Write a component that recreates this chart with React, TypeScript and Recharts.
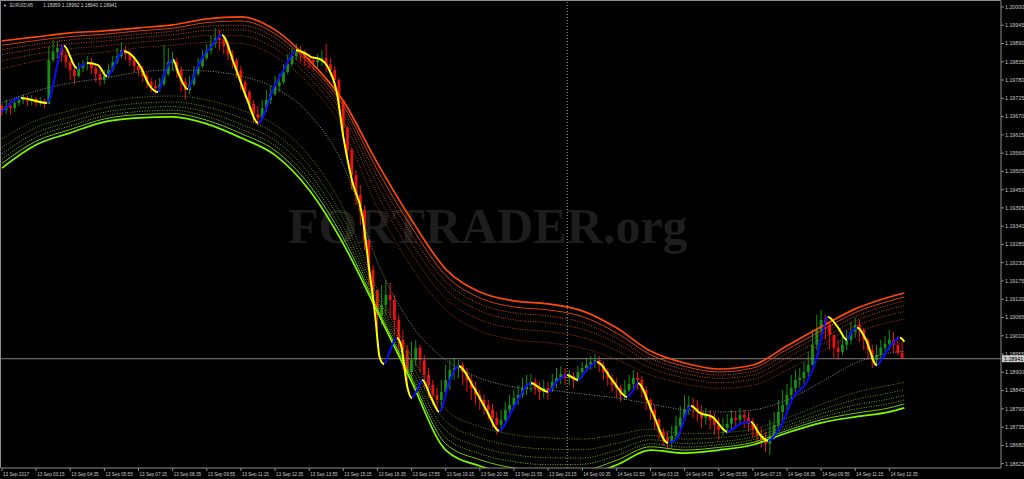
import React from 'react';
import { ComposedChart, Bar, Line, XAxis, YAxis, ReferenceLine } from 'recharts';

// ---------- data (prices stored as 1.18 + v/100000) ----------
const BASE = 1.18;
const toPrice = (v: number) => BASE + v / 100000;

const yTicks = [1.18625, 1.1868, 1.18735, 1.1879, 1.18845, 1.189, 1.18955, 1.1901, 1.19065, 1.1912, 1.19175, 1.1923, 1.19285, 1.1934, 1.19395, 1.1945, 1.19505, 1.1956, 1.19615, 1.1967, 1.19725, 1.1978, 1.19835, 1.1989, 1.19945, 1.2];
const yDomain = [1.18612, 1.20018];

const xTickIdx = [0, 16, 32, 48, 64, 80, 96, 112, 128, 144, 160, 176, 192, 208, 224, 240, 256, 272, 288, 304, 320, 336, 352, 368, 384, 400, 416];
const xTickLabels = ['13 Sep 2017', '13 Sep 03:15', '13 Sep 04:35', '13 Sep 05:55', '13 Sep 07:15', '13 Sep 08:35', '13 Sep 09:55', '13 Sep 11:15', '13 Sep 12:35', '13 Sep 13:55', '13 Sep 15:15', '13 Sep 16:35', '13 Sep 17:55', '13 Sep 19:15', '13 Sep 20:35', '13 Sep 21:55', '13 Sep 23:15', '14 Sep 00:35', '14 Sep 01:55', '14 Sep 03:15', '14 Sep 04:35', '14 Sep 05:55', '14 Sep 07:15', '14 Sep 08:35', '14 Sep 09:55', '14 Sep 11:15', '14 Sep 12:35'];
const xDomain = [-0.47, 468.3];

// candles: one every 2 slots (10 min)
const firstOpen = 1702;
const closes = [
  1690, 1702, 1696, 1711, 1720, 1726, 1717, 1723, 1711, 1717,
  1708, 1840, 1864, 1877, 1855, 1834, 1810, 1792, 1816, 1828,
  1834, 1816, 1798, 1780, 1792, 1810, 1834, 1852, 1870, 1858,
  1840, 1822, 1810, 1792, 1774, 1762, 1756, 1768, 1798, 1834,
  1834, 1810, 1774, 1750, 1768, 1798, 1822, 1846, 1870, 1889,
  1907, 1901, 1883, 1858, 1840, 1810, 1774, 1744, 1708, 1678,
  1666, 1696, 1720, 1738, 1762, 1774, 1804, 1828, 1852, 1864,
  1858, 1846, 1840, 1834, 1840, 1846, 1828, 1810, 1780, 1720,
  1636, 1569, 1494, 1434, 1389, 1299, 1208, 1148, 1073, 1103,
  1133, 1118, 1058, 998, 967, 901, 937, 974, 937, 892,
  862, 832, 817, 841, 877, 907, 913, 922, 901, 877,
  853, 832, 817, 802, 787, 763, 742, 757, 787, 802,
  823, 832, 853, 862, 871, 853, 841, 853, 847, 871,
  883, 895, 883, 889, 877, 901, 913, 922, 931, 937,
  922, 901, 883, 862, 853, 832, 847, 865, 883, 877,
  847, 817, 787, 757, 721, 703, 691, 709, 739, 763,
  787, 802, 793, 781, 763, 772, 757, 742, 727, 733,
  745, 763, 757, 772, 763, 745, 727, 709, 697, 685,
  709, 742, 781, 802, 832, 853, 877, 883, 901, 922,
  983, 1028, 1058, 1043, 1013, 974, 961, 983, 998, 1022,
  1043, 1028, 998, 967, 937, 952, 974, 986, 998, 983,
  959, 941,
];
const highs = [
  1708, 1720, 1717, 1726, 1732, 1738, 1732, 1735, 1729, 1729,
  1723, 1880, 1901, 1895, 1886, 1870, 1840, 1822, 1834, 1840,
  1852, 1846, 1828, 1810, 1810, 1828, 1852, 1877, 1895, 1883,
  1870, 1852, 1834, 1822, 1804, 1786, 1780, 1786, 1886, 1877,
  1864, 1846, 1822, 1786, 1792, 1822, 1846, 1870, 1889, 1913,
  1937, 1931, 1913, 1895, 1870, 1846, 1822, 1780, 1750, 1720,
  1702, 1720, 1750, 1762, 1792, 1798, 1828, 1858, 1877, 1889,
  1883, 1870, 1858, 1852, 1858, 1870, 1889, 1846, 1822, 1786,
  1720, 1642, 1576, 1509, 1464, 1404, 1299, 1223, 1148, 1163,
  1178, 1169, 1133, 1073, 1028, 983, 992, 998, 983, 952,
  913, 877, 853, 877, 922, 937, 943, 937, 931, 913,
  892, 871, 847, 832, 817, 805, 781, 787, 811, 832,
  847, 862, 883, 892, 895, 883, 871, 877, 871, 895,
  913, 919, 913, 907, 901, 919, 931, 943, 949, 955,
  949, 931, 913, 895, 883, 862, 877, 892, 907, 901,
  889, 859, 823, 802, 763, 733, 721, 739, 769, 799,
  832, 829, 823, 817, 802, 793, 787, 778, 763, 763,
  775, 787, 781, 793, 787, 781, 763, 745, 733, 721,
  757, 781, 817, 847, 865, 892, 907, 913, 931, 961,
  1028, 1073, 1088, 1073, 1052, 1013, 998, 1013, 1028, 1052,
  1064, 1058, 1034, 1004, 983, 983, 998, 1010, 1028, 1022,
  1010, 992,
];
const lows = [
  1672, 1678, 1675, 1684, 1702, 1708, 1702, 1705, 1699, 1702,
  1696, 1708, 1834, 1846, 1834, 1816, 1780, 1768, 1786, 1804,
  1810, 1798, 1774, 1762, 1768, 1786, 1804, 1828, 1846, 1840,
  1822, 1804, 1792, 1774, 1756, 1744, 1738, 1744, 1762, 1792,
  1810, 1786, 1744, 1720, 1738, 1762, 1792, 1816, 1840, 1858,
  1877, 1870, 1858, 1840, 1816, 1786, 1750, 1726, 1690, 1654,
  1642, 1660, 1684, 1708, 1732, 1744, 1768, 1798, 1822, 1840,
  1834, 1822, 1816, 1810, 1816, 1822, 1804, 1792, 1750, 1690,
  1600, 1539, 1449, 1404, 1344, 1268, 1163, 1103, 1028, 1043,
  1073, 1064, 1013, 952, 907, 853, 877, 919, 901, 853,
  823, 802, 781, 787, 823, 847, 877, 883, 862, 841,
  817, 802, 787, 772, 757, 733, 712, 721, 742, 772,
  787, 802, 823, 832, 841, 832, 817, 823, 817, 841,
  853, 865, 862, 862, 853, 871, 883, 901, 907, 913,
  901, 877, 859, 841, 823, 811, 817, 841, 853, 847,
  823, 787, 757, 727, 697, 679, 666, 673, 697, 727,
  757, 772, 763, 751, 733, 742, 727, 712, 697, 709,
  715, 727, 733, 742, 733, 721, 703, 685, 673, 660,
  651, 697, 733, 757, 787, 817, 841, 853, 865, 889,
  931, 967, 1013, 998, 967, 943, 937, 952, 967, 983,
  1004, 992, 967, 937, 913, 922, 943, 961, 967, 961,
  952, 940,
];
const candleSlots = 2;

// smoothed price line (yellow falling / blue rising)
const smoothIdx = [0, 9, 21, 29, 35, 40, 45, 49, 57, 65, 69, 73, 76, 80, 83, 87, 91, 94, 98, 103, 109, 115, 120, 128, 132, 135, 138, 142, 145, 149, 153, 157, 160, 164, 169, 172, 175, 177, 179, 182, 185, 187, 190, 192, 195, 197, 201, 205, 210, 214, 221, 227, 233, 240, 248, 252, 256, 260, 265, 267, 270, 274, 279, 286, 293, 296, 298, 305, 312, 316, 323, 327, 333, 340, 346, 351, 355, 359, 365, 371, 377, 382, 385, 387, 392, 396, 398, 401, 405, 410, 415, 421, 423];
const smoothVal = [1684, 1726, 1711, 1883, 1816, 1831, 1825, 1792, 1867, 1819, 1765, 1744, 1796, 1843, 1796, 1753, 1810, 1849, 1880, 1916, 1825, 1720, 1651, 1765, 1810, 1846, 1870, 1861, 1849, 1843, 1816, 1741, 1609, 1479, 1368, 1217, 1067, 946, 925, 967, 1004, 983, 856, 823, 853, 877, 826, 781, 877, 919, 856, 787, 724, 796, 868, 853, 841, 871, 892, 886, 877, 907, 931, 877, 826, 847, 868, 778, 688, 697, 799, 778, 766, 721, 745, 751, 715, 694, 736, 826, 868, 946, 1028, 1067, 1034, 998, 1019, 1034, 998, 922, 967, 1004, 992];

// envelope bands
const bandIdx = [0, 16, 32, 48, 64, 80, 96, 112, 128, 144, 160, 176, 192, 208, 224, 240, 256, 272, 288, 304, 320, 336, 352, 368, 384, 400, 416, 423];
const upper0 = [1898, 1910, 1922, 1928, 1937, 1946, 1964, 1970, 1931, 1840, 1717, 1530, 1359, 1211, 1142, 1115, 1106, 1085, 1034, 964, 928, 910, 922, 980, 1037, 1091, 1127, 1139];
const upper1 = [1885, 1899, 1911, 1918, 1928, 1936, 1953, 1958, 1919, 1829, 1703, 1509, 1337, 1192, 1124, 1097, 1088, 1068, 1019, 953, 918, 901, 913, 969, 1025, 1080, 1115, 1127];
const upper2 = [1872, 1887, 1901, 1908, 1918, 1927, 1942, 1945, 1907, 1817, 1690, 1488, 1315, 1173, 1106, 1079, 1070, 1050, 1004, 942, 908, 892, 903, 957, 1014, 1068, 1103, 1115];
const upper3 = [1857, 1874, 1889, 1897, 1908, 1916, 1929, 1931, 1893, 1804, 1675, 1464, 1289, 1151, 1085, 1058, 1049, 1030, 988, 929, 897, 882, 892, 944, 1000, 1055, 1090, 1101];
const upper4 = [1838, 1858, 1874, 1883, 1894, 1902, 1914, 1913, 1875, 1788, 1655, 1435, 1258, 1123, 1059, 1032, 1023, 1005, 966, 913, 883, 869, 879, 928, 984, 1039, 1073, 1083];
const upper5 = [1814, 1837, 1854, 1864, 1877, 1885, 1893, 1890, 1852, 1767, 1630, 1396, 1217, 1088, 1025, 998, 989, 973, 939, 892, 865, 852, 861, 907, 962, 1018, 1051, 1060];
const middle = [1711, 1747, 1771, 1786, 1804, 1810, 1807, 1792, 1756, 1678, 1524, 1232, 1043, 937, 883, 856, 847, 835, 823, 805, 787, 781, 787, 817, 871, 928, 958, 964];
const lower5 = [1603, 1658, 1688, 1713, 1728, 1732, 1720, 1690, 1645, 1552, 1394, 1149, 948, 788, 737, 712, 703, 699, 712, 729, 715, 718, 729, 763, 803, 839, 861, 870];
const lower4 = [1578, 1637, 1669, 1696, 1710, 1714, 1699, 1666, 1619, 1522, 1363, 1130, 926, 753, 703, 678, 669, 667, 686, 710, 699, 703, 716, 750, 787, 818, 838, 848];
const lower3 = [1558, 1621, 1654, 1683, 1696, 1700, 1683, 1647, 1598, 1499, 1339, 1115, 909, 726, 676, 652, 643, 642, 665, 697, 686, 691, 705, 740, 775, 802, 820, 831];
const lower2 = [1542, 1608, 1642, 1672, 1685, 1689, 1670, 1632, 1582, 1481, 1320, 1103, 895, 704, 655, 631, 622, 623, 649, 685, 675, 682, 697, 732, 765, 789, 806, 817];
const lower1 = [1529, 1596, 1631, 1663, 1676, 1679, 1659, 1619, 1568, 1465, 1304, 1092, 883, 685, 637, 612, 603, 605, 635, 676, 666, 674, 689, 725, 757, 777, 793, 805];
const lower0 = [1515, 1585, 1621, 1654, 1666, 1669, 1648, 1606, 1554, 1449, 1287, 1082, 871, 666, 618, 594, 585, 588, 621, 666, 657, 666, 682, 718, 748, 766, 781, 793];

const daySeparatorIdx = 265;
const lastPrice = 1.18941;
const headerSymbol = 'EURUSD,M5';
const headerQuotes = '1.18959 1.18992 1.18940 1.18941';
const watermark = 'FORTRADER.org';

// ---------- styles ----------
const GREEN = '#139313';
const RED = '#f01010';
const YELLOW = '#ffff00';
const BLUE = '#0a0aff';
const FONT = "'Liberation Sans', Arial, sans-serif";

const bandSeries = [
  { key: 'u0', values: upper0, color: '#ff4a06', width: 1.7, dash: undefined },
  { key: 'u1', values: upper1, color: '#d84008', width: 1, dash: undefined },
  { key: 'u2', values: upper2, color: '#d84a12', width: 1, dash: '1 1.5' },
  { key: 'u3', values: upper3, color: '#c8420e', width: 1, dash: '1 1.5' },
  { key: 'u4', values: upper4, color: '#b63c0c', width: 1, dash: '1 1.5' },
  { key: 'u5', values: upper5, color: '#a4360a', width: 1, dash: '1 1.5' },
  { key: 'mid', values: middle, color: '#8c8c8c', width: 1, dash: '1 1.5' },
  { key: 'l5', values: lower5, color: '#5e8a00', width: 1, dash: '1 1.5' },
  { key: 'l4', values: lower4, color: '#689800', width: 1, dash: '1 1.5' },
  { key: 'l3', values: lower3, color: '#72a600', width: 1, dash: '1 1.5' },
  { key: 'l2', values: lower2, color: '#7cb400', width: 1, dash: '1 1.5' },
  { key: 'l1', values: lower1, color: '#78c800', width: 1, dash: undefined },
  { key: 'l0', values: lower0, color: '#7cfc00', width: 1.7, dash: undefined },
];

// ---------- merged table ----------
const rowMap = new Map<number, any>();
const rowAt = (i: number) => {
  if (!rowMap.has(i)) rowMap.set(i, { i });
  return rowMap.get(i);
};
closes.forEach((cv, k) => {
  const o = toPrice(k === 0 ? firstOpen : closes[k - 1]);
  const c = toPrice(cv);
  const h = Math.max(toPrice(highs[k]), o, c);
  const l = Math.min(toPrice(lows[k]), o, c);
  const r = rowAt(k * candleSlots);
  r.o = o; r.c = c; r.h = h; r.l = l;
  r.candle = [l, h];
});
smoothIdx.forEach((i, j) => { rowAt(i).smooth = toPrice(smoothVal[j]); });
bandSeries.forEach((s) => {
  bandIdx.forEach((i, j) => { rowAt(i)[s.key] = toPrice(s.values[j]); });
});
const data = Array.from(rowMap.values()).sort((a, b) => a.i - b.i);

// gradient stops for direction colouring
const sFirst = smoothIdx[0];
const sLast = smoothIdx[smoothIdx.length - 1];
const gradStops: { off: number; color: string }[] = [];
for (let j = 0; j < smoothIdx.length - 1; j++) {
  const color = smoothVal[j + 1] >= smoothVal[j] ? BLUE : YELLOW;
  gradStops.push({ off: (smoothIdx[j] - sFirst) / (sLast - sFirst), color });
  gradStops.push({ off: (smoothIdx[j + 1] - sFirst) / (sLast - sFirst), color });
}

const renderCandle = (props: any) => {
  const { x, y, width, height, payload } = props;
  if (!payload || payload.candle == null || !isFinite(y) || !isFinite(height)) return <g />;
  const top = Math.min(y, y + height);
  const span = Math.abs(height);
  const { o, c, h, l } = payload;
  const k = h - l > 0 ? span / (h - l) : 0;
  const yo = top + (h - o) * k;
  const yc = top + (h - c) * k;
  const color = c >= o ? GREEN : RED;
  const cx = x + width / 2;
  const bodyTop = Math.min(yo, yc);
  const bodyH = Math.max(1, Math.abs(yc - yo));
  return (
    <g>
      <line x1={cx} x2={cx} y1={top} y2={top + Math.max(span, 1)} stroke={color} strokeWidth={1} />
      <rect x={cx - 1.4} y={bodyTop} width={2.8} height={bodyH} fill={color} />
    </g>
  );
};

const XTick = (props: any) => {
  const { x, payload } = props;
  const idx = xTickIdx.indexOf(payload.value);
  return (
    <text x={x + 1} y={476} fontSize={4.6} fill="#c8c8c8" fontFamily={FONT} textAnchor="start">
      {idx >= 0 ? xTickLabels[idx] : ''}
    </text>
  );
};

const PriceTag = (props: any) => {
  const vb = props.viewBox || {};
  const x = (vb.x ?? 0) + (vb.width ?? 0);
  const y = vb.y ?? 0;
  return (
    <g>
      <rect x={x + 1} y={y - 3.5} width={22} height={7} fill="#c4c4c4" />
      <text x={x + 3} y={y + 2} fontSize={5.3} fill="#000" fontFamily={FONT}>
        {lastPrice.toFixed(5)}
      </text>
    </g>
  );
};

export default function App() {
  return (
    <div style={{ position: 'absolute', left: 0, top: 0, width: 1024, height: 479, background: '#000', overflow: 'hidden' }}>
      <svg width={1024} height={479} style={{ position: 'absolute', left: 0, top: 0 }}>
        <text x={288} y={243} fontFamily="'Liberation Serif', 'Times New Roman', serif" fontWeight="bold" fontSize={50} fill="#1d1d1d">
          {watermark}
        </text>
        <text x={3} y={7} fontSize={4} fill="#d0d0d0" fontFamily={FONT}>▼</text>
        <text x={10} y={7} fontSize={5} fill="#d0d0d0" fontFamily={FONT} textLength={23} lengthAdjust="spacingAndGlyphs">
          {headerSymbol}
        </text>
        <text x={43} y={7} fontSize={5} fill="#d0d0d0" fontFamily={FONT} textLength={74} lengthAdjust="spacingAndGlyphs">
          {headerQuotes}
        </text>
      </svg>
      <div style={{ position: 'absolute', left: 0, top: 0, width: 1001, height: 468, borderLeft: '1px solid #8c8c8c', borderTop: '1px solid #8c8c8c', boxSizing: 'border-box' }} />
      <div style={{ position: 'absolute', left: 0, top: 0 }}>
        <ComposedChart width={1024} height={479} data={data} margin={{ top: 1, right: 0, bottom: 0, left: 1 }}>
          <defs>
            <linearGradient id="smoothDir" x1="0" y1="0" x2="1" y2="0">
              {gradStops.map((s, n) => (
                <stop key={n} offset={s.off} stopColor={s.color} />
              ))}
            </linearGradient>
          </defs>
          <XAxis
            dataKey="i"
            type="number"
            domain={xDomain}
            allowDataOverflow
            ticks={xTickIdx}
            interval={0}
            height={11}
            tickSize={3}
            axisLine={{ stroke: '#8c8c8c' }}
            tickLine={{ stroke: '#8c8c8c' }}
            tick={<XTick />}
          />
          <YAxis
            orientation="right"
            type="number"
            domain={yDomain}
            allowDataOverflow
            ticks={yTicks}
            interval={0}
            width={23}
            tickSize={3}
            tickMargin={1}
            axisLine={{ stroke: '#8c8c8c' }}
            tickLine={{ stroke: '#8c8c8c' }}
            tick={{ fontSize: 5.3, fill: '#c8c8c8', fontFamily: FONT }}
            tickFormatter={(v: number) => v.toFixed(5)}
          />
          <ReferenceLine x={daySeparatorIdx} stroke="#a0a0a0" strokeDasharray="1 2" />
          <ReferenceLine y={lastPrice} stroke="#808080" strokeWidth={1} label={<PriceTag />} />
          <Bar dataKey="candle" barSize={3} shape={renderCandle} isAnimationActive={false} />
          {bandSeries.map((s) => (
            <Line
              key={s.key}
              dataKey={s.key}
              type="monotone"
              stroke={s.color}
              strokeWidth={s.width}
              strokeDasharray={s.dash}
              dot={false}
              activeDot={false}
              connectNulls
              isAnimationActive={false}
            />
          ))}
          <Line
            dataKey="smooth"
            type="monotone"
            stroke="url(#smoothDir)"
            strokeWidth={2}
            dot={false}
            activeDot={false}
            connectNulls
            isAnimationActive={false}
          />
        </ComposedChart>
      </div>
    </div>
  );
}
